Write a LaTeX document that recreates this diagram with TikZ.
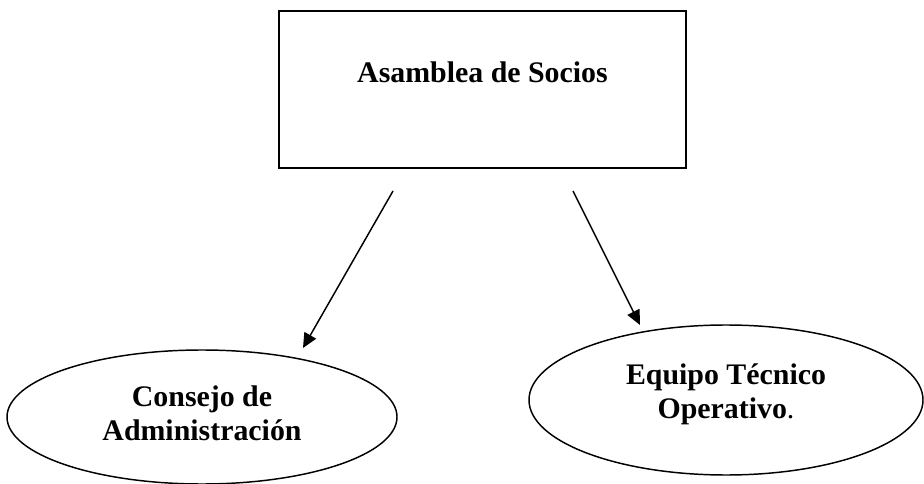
\documentclass[tikz,border=0pt]{standalone}
\usepackage{fontspec}
\setmainfont{Liberation Serif}
\usetikzlibrary{arrows.meta,shapes.geometric}
\tikzset{
>={Triangle[length=11pt,width=10pt]},
caja/.style={rectangle,draw,line width=1.2pt,inner sep=0pt,minimum width=305pt,
  text height=54pt,text depth=64pt},
elipse/.style={ellipse,draw,line width=1.1pt,inner sep=0pt,align=center},
freccia/.style={->,line width=1.1pt}}

\begin{document}
\begin{tikzpicture}[x=0.75pt,y=-0.75pt,font=\fontsize{22.4}{25.5}\selectfont\bfseries]

\useasboundingbox (0,0) rectangle (924,484);

      \node[caja] (asamblea) at (482.5,89.5) {Asamblea de Socios};
      \node[elipse,minimum width=292.5pt,minimum height=100.5pt,
        text height=47.25pt,text depth=12.75pt]
        (consejo) at (202,417) {Consejo de\\Administración};
      \node[elipse,minimum width=295.5pt,minimum height=112.5pt,
        text height=45.75pt,text depth=18.75pt]
        (equipo) at (726,400) {Equipo Técnico\\Operativo\textmd{.}};

      \coordinate (c1) at (393,191);
      \coordinate (c2) at (303,348);
      \coordinate (e1) at (573,191);
      \coordinate (e2) at (640,325);

      \draw[freccia] (c1) -- (c2);
      \draw[freccia] (e1) -- (e2);
\end{tikzpicture}
\end{document}
